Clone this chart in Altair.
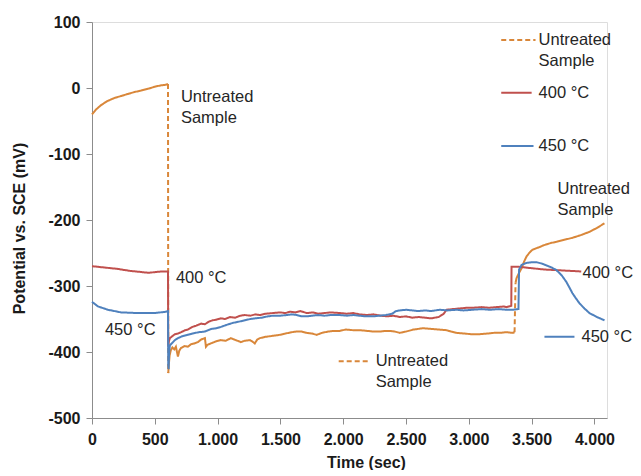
import altair as alt
import pandas as pd

SERIES = ["Untreated Sample", "400 °C", "450 °C"]
COLORS = ["#D9873A", "#C0504D", "#4F81BD"]

# ---- Untreated sample (orange) ----
u1_t = [0, 30, 72, 120, 180, 235, 286, 340, 390, 450, 500, 550, 588, 605]
u1_v = [-40, -33, -26, -20, -15, -12, -9, -6, -4, -1, 2, 4, 5, 6]
u2_t = [605, 607]
u2_v = [6, -432]
u3_t = [607, 612, 618, 628, 640, 655, 668, 684, 695, 708, 735, 763, 790, 815, 843,
        870, 899, 907, 920, 946, 985, 1026, 1065, 1105, 1145, 1185, 1215, 1257, 1276,
        1296, 1316, 1336, 1380, 1420, 1460, 1495, 1540, 1590, 1630, 1670, 1710, 1750,
        1789, 1830, 1880, 1930, 1972, 2020, 2080, 2131, 2190, 2240, 2290, 2340, 2370,
        2410, 2450, 2500, 2560, 2634, 2700, 2760, 2823, 2860, 2903, 2960, 3020, 3086,
        3150, 3200, 3245, 3300, 3350, 3364]
u3_v = [-432, -418, -405, -397, -393, -396, -392, -407, -398, -394, -391, -392, -388,
        -387, -385, -381, -379, -392, -389, -387, -384, -382, -383, -379, -382, -385,
        -383, -382, -384, -387, -381, -379, -377, -376, -375, -374, -372, -370, -369,
        -369, -371, -372, -374, -371, -369, -368, -368, -366, -367, -367, -368, -369,
        -369, -368, -368, -369, -371, -369, -366, -364, -365, -366, -367, -369, -371,
        -372, -373, -373, -372, -371, -371, -370, -371, -370]
u4_t = [3364, 3372]
u4_v = [-370, -295]
u5_t = [3372, 3380, 3400, 3420, 3440, 3460, 3485, 3507, 3535, 3563, 3600, 3650, 3698,
        3760, 3825, 3890, 3960, 4020, 4080]
u5_v = [-295, -288, -280, -273, -263, -255, -249, -245, -243, -241, -238, -235, -233,
        -230, -227, -223, -218, -212, -205]

# ---- 400 °C (red) ----
r_t = [0, 50, 100, 200, 300, 400, 450, 500, 550, 600, 605, 607, 612, 620, 640, 660,
       684, 710, 740, 763, 800, 830, 870, 899, 930, 960, 990, 1026, 1060, 1100, 1140,
       1180, 1217, 1260, 1300, 1340, 1380, 1440, 1500, 1540, 1575, 1620, 1660, 1710,
       1760, 1800, 1850, 1900, 1972, 2030, 2080, 2130, 2187, 2240, 2300, 2350, 2400,
       2450, 2500, 2550, 2600, 2650, 2700, 2760, 2800, 2823, 2870, 2930, 2980, 3030,
       3100, 3160, 3220, 3280, 3300, 3338, 3340, 3400, 3500, 3600, 3700, 3800, 3895]
r_v = [-270, -271, -272, -274, -277, -279, -280, -279, -278, -278, -278, -392, -384,
       -379, -376, -373, -372, -370, -367, -366, -362, -360, -357, -358, -354, -352,
       -351, -349, -350, -347, -348, -345, -344, -345, -343, -344, -342, -341, -340,
       -341, -339, -340, -338, -341, -340, -342, -341, -340, -341, -342, -341, -343,
       -344, -343, -345, -346, -345, -347, -346, -348, -347, -348, -349, -347, -342,
       -336, -335, -334, -333, -333, -332, -333, -332, -331, -332, -330, -271, -271,
       -273, -275, -276, -277, -278, -279]

# ---- 450 °C (blue) ----
b_t = [0, 48, 127, 231, 366, 500, 588, 605, 607, 610, 614, 620, 640, 660, 684, 720,
       763, 800, 850, 899, 950, 990, 1026, 1070, 1120, 1170, 1217, 1260, 1300, 1350,
       1400, 1440, 1500, 1550, 1590, 1630, 1670, 1710, 1750, 1800, 1850, 1900, 1972,
       2030, 2080, 2130, 2180, 2235, 2290, 2340, 2390, 2420, 2450, 2500, 2550, 2600,
       2650, 2700, 2767, 2830, 2900, 2960, 3030, 3100, 3170, 3240, 3300, 3350, 3395,
       3400, 3420, 3460, 3500, 3540, 3580, 3620, 3660, 3698, 3740, 3777, 3800, 3825,
       3850, 3880, 3920, 3960, 4020, 4080]
b_v = [-324, -331, -336, -340, -341, -341, -339, -338, -420, -426, -400, -390, -386,
       -382, -379, -376, -374, -372, -370, -369, -365, -364, -362, -359, -356, -354,
       -352, -350, -349, -348, -346, -345, -345, -344, -343, -344, -346, -346, -345,
       -344, -345, -344, -344, -345, -344, -345, -346, -346, -345, -344, -342, -338,
       -337, -336, -337, -338, -337, -338, -336, -337, -336, -337, -336, -335, -336,
       -335, -336, -336, -335, -275, -268, -265, -264, -264, -266, -269, -272, -276,
       -284, -294, -302, -311, -318, -326, -334, -341, -347, -352]

# ---- annotations (data units, first line centre) ----
ann_text = ["Untreated\nSample", "400 °C", "450 °C", "Untreated\nSample",
            "Untreated\nSample", "400 °C", "450 °C"]
ann_t = [708, 668, 103, 2258, 3706, 3905, 3897]
ann_v = [-14, -288, -367, -414, -153, -280, -377]

# ---- legend-like keys (data units) ----
key_series = ["Untreated Sample", "400 °C", "450 °C", "Untreated Sample", "450 °C"]
key_style = ["dashed", "solid", "solid", "dashed", "solid"]
key_t1 = [3258, 3258, 3258, 1964, 3602]
key_t2 = [3531, 3500, 3515, 2203, 3841]
key_v = [72.7, -7.1, -87.9, -414, -377]

leg_text = ["Untreated\nSample", "400 °C", "450 °C"]
leg_t = [3555, 3555, 3555]
leg_v = [72.7, -7.1, -87.9]

rows = []
def add(series, seg, style, ts, vs):
    for i, (t, v) in enumerate(zip(ts, vs)):
        rows.append({"series": series, "seg": seg, "style": style, "t": t, "v": v, "i": i})

add(SERIES[0], "u1", "solid", u1_t, u1_v)
add(SERIES[0], "u2", "dashed", u2_t, u2_v)
add(SERIES[0], "u3", "solid", u3_t, u3_v)
add(SERIES[0], "u4", "dashed", u4_t, u4_v)
add(SERIES[0], "u5", "solid", u5_t, u5_v)
add(SERIES[1], "r", "solid", r_t, r_v)
add(SERIES[2], "b", "solid", b_t, b_v)
df = pd.DataFrame(rows)

ann_df = pd.DataFrame({"label": ann_text + leg_text, "t": ann_t + leg_t, "v": ann_v + leg_v})
key_df = pd.DataFrame({"series": key_series, "style": key_style, "t": key_t1,
                       "t2": key_t2, "v": key_v})

FONT = "Liberation Sans"
AX = "#8c8c8c"

x_scale = alt.Scale(domain=[0, 4100], nice=False, zero=False)
y_scale = alt.Scale(domain=[-500, 100], nice=False, zero=False)
color = alt.Color("series:N", scale=alt.Scale(domain=SERIES, range=COLORS), legend=None)
dash = alt.StrokeDash("style:N", scale=alt.Scale(domain=["solid", "dashed"],
                                                 range=[[1, 0], [5, 3]]), legend=None)

x_axis = alt.Axis(values=list(range(0, 4001, 500)), grid=False,
                  labelExpr="replace(format(datum.value, ','), ',', '.')",
                  title="Time (sec)", titleX=274, titleY=49, titleAlign="center",
                  titleBaseline="alphabetic", titleFont=FONT, titleFontSize=16,
                  titleFontWeight="bold", titleColor="#1a1a1a",
                  labelFont=FONT, labelFontSize=16, labelFontWeight="bold",
                  labelColor="#1a1a1a", labelPadding=7, labelFlush=False,
                  labelOverlap=False, domainColor=AX, tickColor=AX, tickSize=6)
y_axis = alt.Axis(values=list(range(-500, 101, 100)), grid=False,
                  labelExpr="'' + datum.value",
                  title="Potential vs. SCE (mV)", titleX=-73, titleY=206, titleAngle=270,
                  titleAlign="center", titleBaseline="middle", titleFont=FONT,
                  titleFontSize=16, titleFontWeight="bold", titleColor="#1a1a1a",
                  labelFont=FONT, labelFontSize=16, labelFontWeight="bold",
                  labelColor="#1a1a1a", labelPadding=6, labelFlush=False,
                  labelOverlap=False, domainColor=AX, tickColor=AX, tickSize=6)

lines = alt.Chart(df).mark_line(strokeWidth=2).encode(
    x=alt.X("t:Q", scale=x_scale, axis=x_axis),
    y=alt.Y("v:Q", scale=y_scale, axis=y_axis),
    color=color, strokeDash=dash, detail="seg:N", order="i:Q")

keys = alt.Chart(key_df).mark_rule(strokeWidth=2).encode(
    x="t:Q", x2="t2:Q", y="v:Q", color=color, strokeDash=dash)

texts = alt.Chart(ann_df).mark_text(align="left", baseline="middle", lineBreak="\n",
                                    font=FONT, fontSize=16.5, color="#262626",
                                    lineHeight=21).encode(
    x="t:Q", y="v:Q", text="label:N")

chart = alt.layer(lines, keys, texts).properties(
    width=515, height=396,
    autosize=alt.AutoSizeParams(type="none"),
    padding={"left": 84, "top": 14, "right": 26, "bottom": 52},
).configure_view(stroke=None).configure(background="white")

chart.save("out.html", embed_options={"renderer": "svg", "actions": False})
